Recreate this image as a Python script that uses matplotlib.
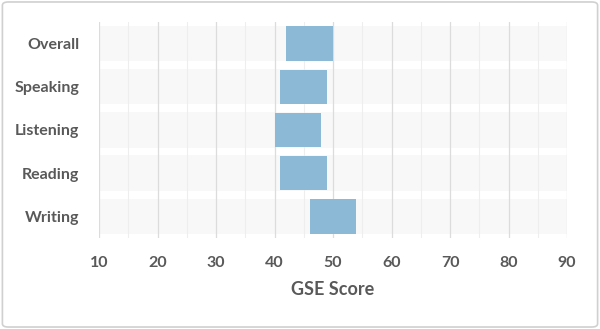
import numpy as np
import matplotlib.pyplot as plt
from matplotlib.patches import FancyBboxPatch


# data
skills = ['Overall', 'Speaking', 'Listening', 'Reading', 'Writing']
low = [42, 41, 40, 41, 46]
high = [50, 49, 48, 49, 54]
xticks = [10, 20, 30, 40, 50, 60, 70, 80, 90]


plt.rcParams['font.family'] = ['Lato', 'DejaVu Sans']
grey = '#595959'

fig = plt.figure(figsize=(6, 3.29), dpi=100)
ax = fig.add_axes([0.165, 0.277, 0.78, 0.656])

y = np.arange(len(skills))

# background bands
ax.barh(y, xticks[-1] - xticks[0], left=xticks[0], height=0.82,
        color='#f8f8f8', zorder=0)

# grid
for v in np.arange(15, 90, 10):
    ax.axvline(v, color='#eeeeee', lw=0.8, zorder=1)
for v in xticks:
    ax.axvline(v, color='#dcdcdc', lw=0.9, zorder=1)

# range bars
ax.barh(y, np.array(high) - np.array(low), left=low, height=0.8,
        color='#8cb9d6', zorder=2)

ax.set_xlim(xticks[0], xticks[-1])
ax.set_ylim(len(skills) - 0.5, -0.5)
ax.set_xticks(xticks)
ax.set_yticks(y)
ax.set_yticklabels(skills)
for s in ax.spines.values():
    s.set_visible(False)
ax.tick_params(length=0, colors=grey, labelsize=11.5)
ax.tick_params(axis='x', pad=13)
ax.tick_params(axis='y', pad=14)
for lab in ax.get_xticklabels() + ax.get_yticklabels():
    lab.set_fontweight('bold')
ax.set_xlabel('GSE Score', color=grey, fontsize=13, fontweight='bold', labelpad=8)

# outer frame
frame = FancyBboxPatch((0.004, 0.006), 0.992, 0.988,
                       boxstyle='round,pad=0,rounding_size=0.01',
                       transform=fig.transFigure, fill=False,
                       edgecolor='#d0d0d0', lw=1.2)
fig.patches.append(frame)

fig.savefig('out.png', dpi=100)
